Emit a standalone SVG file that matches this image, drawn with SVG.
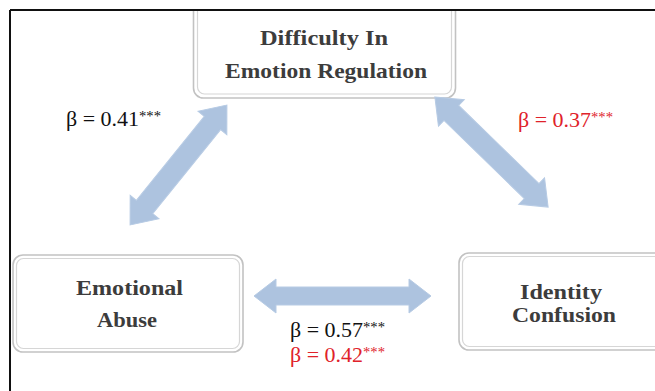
<svg xmlns="http://www.w3.org/2000/svg" width="655" height="391" viewBox="0 0 655 391">
<style>
.outer{fill:#fff;stroke:#c2c2c2;stroke-width:1.6}
.inner{fill:none;stroke:#d6d6d6;stroke-width:1.2}
.node{font-family:"Liberation Serif","Times New Roman",serif;font-weight:bold;fill:#3c3c3c;text-anchor:middle}
.beta{font-family:"Liberation Serif","Times New Roman",serif;font-size:21px}
.blk{fill:#111}
.red{fill:#e0222a}
.arr{fill:#adc3df;stroke:#b7cbe4;stroke-width:1}
.sup{font-size:14px}
</style>
<rect width="655" height="391" fill="#fff"/>
<g id="node-difficulty">
<rect class="outer" x="193.5" y="-20" width="262" height="118" rx="10"/>
<rect class="inner" x="197.5" y="-20" width="254" height="114" rx="7"/>
<text class="node" x="324" y="45" font-size="22" textLength="128" lengthAdjust="spacingAndGlyphs">Difficulty In</text>
<text class="node" x="326" y="78" font-size="22" textLength="202" lengthAdjust="spacingAndGlyphs">Emotion Regulation</text>
</g>
<g id="node-emotional-abuse">
<rect class="outer" x="13" y="255" width="230" height="97" rx="10"/>
<rect class="inner" x="16.5" y="258.5" width="223" height="90" rx="7"/>
<text class="node" x="129.5" y="295" font-size="20" textLength="107" lengthAdjust="spacingAndGlyphs">Emotional</text>
<text class="node" x="127" y="327" font-size="20" textLength="60" lengthAdjust="spacingAndGlyphs">Abuse</text>
</g>
<g id="node-identity-confusion">
<rect class="outer" x="459" y="253" width="220" height="97" rx="10"/>
<rect class="inner" x="462.5" y="256.5" width="213" height="90" rx="7"/>
<text class="node" x="561" y="299" font-size="20" textLength="82" lengthAdjust="spacingAndGlyphs">Identity</text>
<text class="node" x="564" y="322" font-size="20" textLength="104" lengthAdjust="spacingAndGlyphs">Confusion</text>
</g>
<g id="connectors">
<polygon class="arr" transform="translate(178.5,165) rotate(-51.05)" points="-77,0 -54,-18.5 -54,-10.5 54,-10.5 54,-18.5 77,0 54,18.5 54,10.5 -54,10.5 -54,18.5"/>
<polygon class="arr" transform="translate(491.5,152) rotate(44.2)" points="-79,0 -56,-18.5 -56,-10.5 56,-10.5 56,-18.5 79,0 56,18.5 56,10.5 -56,10.5 -56,18.5"/>
<polygon class="arr" transform="translate(342.5,296)" points="-88.5,0 -66.5,-17 -66.5,-9 66.5,-9 66.5,-17 88.5,0 66.5,17 66.5,9 -66.5,9 -66.5,17"/>
</g>
<g id="labels">
<text class="beta blk" x="66" y="126" textLength="95" lengthAdjust="spacingAndGlyphs">β = 0.41<tspan class="sup" dy="-5">***</tspan></text>
<text class="beta red" x="518" y="127" textLength="95" lengthAdjust="spacingAndGlyphs">β = 0.37<tspan class="sup" dy="-5">***</tspan></text>
<text class="beta blk" x="290" y="337" textLength="95" lengthAdjust="spacingAndGlyphs">β = 0.57<tspan class="sup" dy="-5">***</tspan></text>
<text class="beta red" x="290" y="362" textLength="95" lengthAdjust="spacingAndGlyphs">β = 0.42<tspan class="sup" dy="-5">***</tspan></text>
</g>
<g id="frame">
<rect x="0" y="0" width="655" height="10" fill="#fff"/>
<line x1="10" y1="10" x2="655" y2="10" stroke="#111" stroke-width="2"/>
<line x1="10" y1="10" x2="10" y2="391" stroke="#111" stroke-width="2"/>
</g>
</svg>
